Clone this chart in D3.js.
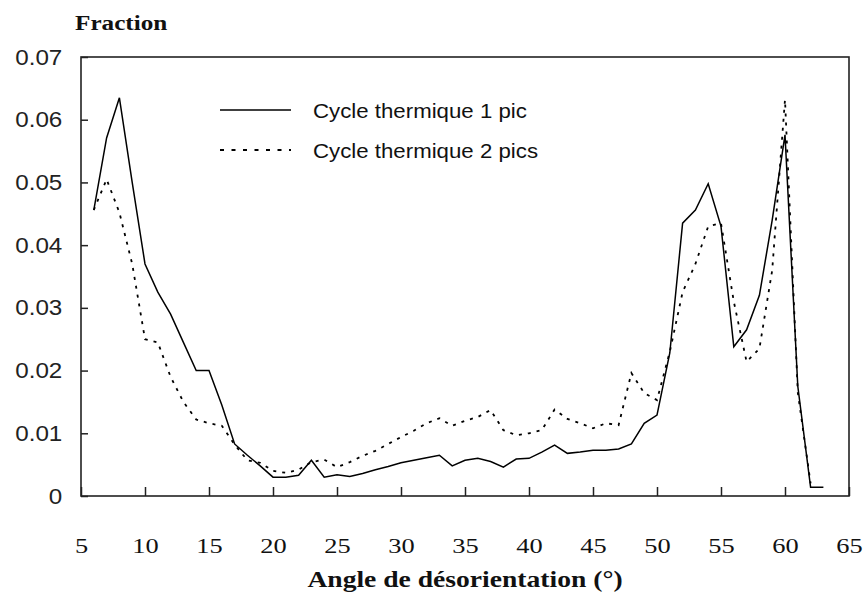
<!DOCTYPE html>
<html>
<head>
<meta charset="utf-8">
<script src="https://cdn.jsdelivr.net/npm/d3@7"></script>
<style>
  body { margin: 0; background: #fff; }
  svg { display: block; }
</style>
</head>
<body>
<div id="chart"></div>
<script>
// angles (degrees) and fractions
var angles1 = [6,7,8,9,10,11,12,13,14,15,16,17,18,19,20,21,22,23,24,25,26,27,28,29,30,31,32,33,34,35,
  36,37,38,39,40,41,42,43,44,45,46,47,48,49,50,51,52,53,54,55,56,57,58,59,60,61,62,63];
var pic1 = [0.0456,0.0571,0.0635,0.050,0.037,0.0325,0.029,0.0245,0.020,0.020,0.0145,0.0083,0.0065,0.0048,
  0.003,0.003,0.0033,0.0057,0.003,0.0034,0.0031,0.0036,0.0042,0.0047,0.0053,0.0057,0.0061,0.0065,0.0048,
  0.0057,0.006,0.0055,0.0046,0.0059,0.006,0.007,0.0081,0.0068,0.007,0.0073,0.0073,0.0075,0.0083,0.0116,
  0.0129,0.0228,0.0435,0.0456,0.0498,0.043,0.0238,0.0265,0.032,0.044,0.0576,0.0175,0.0014,0.0014];

var angles2 = [6,7,8,9,10,11,12,13,14,15,16,17,18,19,20,21,22,23,24,25,26,27,28,29,30,31,32,33,34,35,
  36,37,38,39,40,41,42,43,44,45,46,47,48,49,50,51,52,53,54,55,56,57,58,59,60,61,62];
var pics2 = [0.0456,0.0505,0.0452,0.037,0.025,0.0245,0.019,0.015,0.0122,0.0116,0.0112,0.0082,0.0057,0.0053,
  0.004,0.0037,0.0042,0.0054,0.0058,0.0046,0.0054,0.0064,0.0072,0.0083,0.0094,0.0104,0.0116,0.0124,0.0112,
  0.012,0.0126,0.0137,0.0105,0.0097,0.01,0.0105,0.0138,0.0123,0.0116,0.0108,0.0116,0.0113,0.0196,0.0164,
  0.0153,0.023,0.0325,0.037,0.043,0.0435,0.031,0.0214,0.0235,0.036,0.0632,0.0165,0.002];

var seriesNames = ["Cycle thermique 1 pic", "Cycle thermique 2 pics"];
var xTicks = [5,10,15,20,25,30,35,40,45,50,55,60,65];
var yTicks = [0,0.01,0.02,0.03,0.04,0.05,0.06,0.07];

var W = 864, H = 594;
var plotLeft = 81, plotRight = 849, plotTop = 57, plotBottom = 496;

var svg = d3.select("#chart").append("svg")
  .attr("width", W).attr("height", H);

var x = d3.scaleLinear().domain([5, 65]).range([plotLeft, plotRight]);
var y = d3.scaleLinear().domain([0, 0.07]).range([plotBottom, plotTop]);

// x axis, ticks pointing inward
var xAxis = d3.axisBottom(x)
  .tickValues(xTicks)
  .tickSizeInner(-9).tickSizeOuter(0)
  .tickPadding(41);

var gx = svg.append("g")
  .attr("transform", "translate(0," + plotBottom + ")")
  .call(xAxis);
gx.select(".domain").remove();
gx.selectAll("line").attr("stroke", "#222").attr("stroke-width", 1.5);
gx.selectAll("text")
  .attr("fill", "#111")
  .attr("transform", "scale(1.2,1)")
  .style("font-family", "'Liberation Serif', 'Times New Roman', serif")
  .style("font-size", "22px");

// y axis
var yAxis = d3.axisLeft(y)
  .tickValues(yTicks)
  .tickSizeInner(-7).tickSizeOuter(0)
  .tickPadding(17)
  .tickFormat(function(d) { return d === 0 ? "0" : d3.format(".2f")(d); });

var gy = svg.append("g")
  .attr("transform", "translate(" + plotLeft + ",0)")
  .call(yAxis);
gy.select(".domain").remove();
gy.selectAll("line").attr("stroke", "#222").attr("stroke-width", 1.5);
gy.selectAll("text")
  .attr("fill", "#222")
  .attr("transform", "scale(1.1,1)")
  .style("font-family", "'Liberation Sans', Arial, sans-serif")
  .style("font-size", "22px");

// frame
svg.append("rect")
  .attr("x", plotLeft).attr("y", plotTop)
  .attr("width", plotRight - plotLeft).attr("height", plotBottom - plotTop)
  .attr("fill", "none").attr("stroke", "#222").attr("stroke-width", 1.6);

var line = d3.line()
  .x(function(d) { return x(d[0]); })
  .y(function(d) { return y(d[1]); });

svg.append("path")
  .datum(d3.zip(angles2, pics2))
  .attr("fill", "none")
  .attr("stroke", "#000")
  .attr("stroke-width", 1.8)
  .attr("stroke-dasharray", "3,6")
  .attr("d", line);

svg.append("path")
  .datum(d3.zip(angles1, pic1))
  .attr("fill", "none")
  .attr("stroke", "#000")
  .attr("stroke-width", 1.5)
  .attr("d", line);

// legend
var legend = svg.append("g");
var legendRows = [
  {name: seriesNames[0], dash: null, y: 110},
  {name: seriesNames[1], dash: "4,7.5", y: 150}
];
legendRows.forEach(function(r) {
  legend.append("line")
    .attr("x1", 220).attr("x2", 291)
    .attr("y1", r.y).attr("y2", r.y)
    .attr("stroke", "#000")
    .attr("stroke-width", r.dash ? 1.8 : 1.5)
    .attr("stroke-dasharray", r.dash);
  legend.append("text")
    .attr("transform", "translate(313," + (r.y + 7.5) + ") scale(1.06,1)")
    .attr("fill", "#111")
    .style("font-family", "'Liberation Sans', Arial, sans-serif")
    .style("font-size", "21px")
    .text(r.name);
});

// titles
svg.append("text")
  .attr("transform", "translate(75,30) scale(1.2,1)")
  .attr("fill", "#111")
  .style("font-family", "'Liberation Serif', 'Times New Roman', serif")
  .style("font-weight", "bold")
  .style("font-size", "21px")
  .text("Fraction");

svg.append("text")
  .attr("transform", "translate(" + ((plotLeft + plotRight) / 2) + ",587) scale(1.2,1)")
  .attr("text-anchor", "middle")
  .attr("fill", "#111")
  .style("font-family", "'Liberation Serif', 'Times New Roman', serif")
  .style("font-weight", "bold")
  .style("font-size", "23px")
  .text("Angle de désorientation (°)");
</script>
</body>
</html>
